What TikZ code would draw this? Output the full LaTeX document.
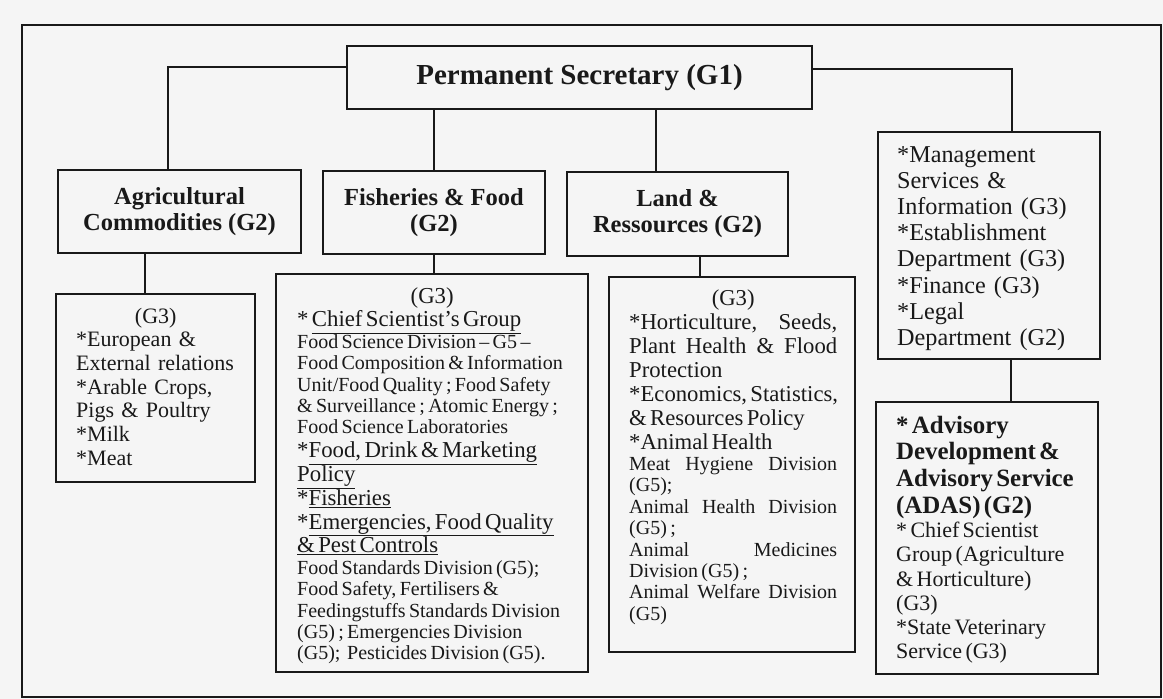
\documentclass[tikz,border=0pt]{standalone}
\usepackage{fontspec}
\setmainfont{Liberation Serif}
\definecolor{paper}{RGB}{245,245,245}
\definecolor{ink}{RGB}{25,25,25}
\newcommand{\ulin}[1]{\underline{#1}}
\newcommand{\jline}[1]{\makebox[208pt][l]{#1}}
\newcommand{\fsPS}{\fontsize{29}{30}\selectfont\bfseries}
\newcommand{\fsHead}{\fontsize{24.5}{26}\selectfont\bfseries}
\newcommand{\fsReg}{\normalfont\fontsize{22}{23.7}\selectfont}
\newcommand{\fsFishReg}{\normalfont\fontsize{22.8}{23.8}\selectfont}
\newcommand{\fsSmall}{\normalfont\fontsize{20}{21.4}\selectfont}
\newcommand{\fsLandReg}{\normalfont\fontsize{22.7}{24}\selectfont}
\newcommand{\fsRight}{\normalfont\fontsize{24.2}{26.2}\selectfont}
\newcommand{\fsAdasB}{\normalfont\fontsize{24.9}{26.8}\selectfont\bfseries}
\newcommand{\fsAdas}{\normalfont\fontsize{22}{24.2}\selectfont}
\tikzset{
  box/.style={draw=ink, line width=1.7pt, inner sep=0pt},
  conn/.style={draw=ink, line width=1.6pt},
  txt/.style={anchor=base west, inner sep=0pt, align=left, text=ink},
}
\begin{document}
\begin{tikzpicture}[x=1pt,y=-1pt]
\fill[paper] (0,0) rectangle (1163,699);
\useasboundingbox (0,0) rectangle (1163,699);
% outer frame
\draw[ink, line width=1.5pt] (22,25) rectangle (1161,697);

% boxes
\node[box, minimum width=465pt, minimum height=63pt, font=\fsPS, text=ink] (ps) at (579.5,77.5) {Permanent Secretary (G1)};
\node[box, minimum width=243pt, minimum height=83pt, font=\fsHead, align=center, text=ink] (agri) at (179.5,211.5) {Agricultural\\Commodities (G2)};
\node[box, minimum width=222pt, minimum height=83pt, font=\fsHead, align=center, text=ink] (fish) at (434,212.5) {Fisheries \& Food\\(G2)};
\node[box, minimum width=221pt, minimum height=84pt, font=\fsHead, align=center, text=ink] (land) at (677.5,214) {Land \&\\Ressources (G2)};
\node[box, minimum width=222pt, minimum height=227pt] (right1) at (989,245.5) {};
\node[box, minimum width=199pt, minimum height=188pt] (agrilow) at (155.5,388) {};
\node[box, minimum width=312pt, minimum height=398pt] (fishlow) at (432,473) {};
\node[box, minimum width=246pt, minimum height=375pt] (landlow) at (732,464.5) {};
\node[box, minimum width=222pt, minimum height=272pt] (adas) at (987,538) {};

% connectors
\draw[conn] ([yshift=10.5pt]ps.west) -| ([xshift=-11.5pt]agri.north);
\draw[conn] ([yshift=8.5pt]ps.east) -| ([xshift=23pt]right1.north);
\draw[conn] (fish.north |- ps.south) -- (fish.north);
\draw[conn] ([xshift=-21.5pt]land.north |- ps.south) -- ([xshift=-21.5pt]land.north);
\draw[conn] ([xshift=-10.5pt]agrilow.north |- agri.south) -- ([xshift=-10.5pt]agrilow.north);
\draw[conn] (fish.south) -- (fish.south |- fishlow.north);
\draw[conn] ([xshift=22.5pt]land.south) -- ([xshift=22.5pt]land.south |- landlow.north);
\draw[conn] ([xshift=22pt]right1.south) -- ([xshift=22pt]right1.south |- adas.north);

% texts
\node[txt, text width=200pt, font=\fsReg] (agritxt) at (76,323) {%
\makebox[159pt][c]{(G3)}\\{}%
*European \&\\
External relations\\{}%
*Arable Crops,\\
Pigs \& Poultry\\{}%
*Milk\\{}%
*Meat};

\node[txt, text width=295pt] (fishtxt) at (297,303) {%
\fsFishReg\makebox[270pt][c]{(G3)}\\{}%
* \ulin{Chief Scientist’s Group}\par
\fsSmall Food Science Division – G5 –\\
Food Composition \& Information\\
Unit/Food Quality ; Food Safety\\
\& Surveillance ; Atomic Energy ;\\
Food Science Laboratories\par
\fsFishReg *\ulin{Food, Drink \& Marketing}\\
\ulin{Policy}\\{}%
*\ulin{Fisheries}\\{}%
*\ulin{Emergencies, Food Quality}\\
\ulin{\& Pest Controls}\par
\fsSmall Food Standards Division (G5);\\
Food Safety, Fertilisers \&\\
Feedingstuffs Standards Division\\
(G5) ; Emergencies Division\\
(G5);\ \ Pesticides Division (G5).\par};

\node[txt, text width=240pt] (landtxt) at (629,305) {%
\fsLandReg\makebox[208pt][c]{(G3)}\\
\jline{*Horticulture,\hfill Seeds,}\\
\jline{Plant\hfill Health\hfill \&\hfill Flood}\\
Protection\\{}%
*Economics, Statistics,\\
\& Resources Policy\\{}%
*Animal Health\par
\fsSmall\jline{Meat\hfill Hygiene\hfill Division}\\
(G5);\\
\jline{Animal\hfill Health\hfill Division}\\
(G5) ;\\
\jline{Animal\hfill Medicines}\\
Division (G5) ;\\
\jline{Animal\hfill Welfare\hfill Division}\\
(G5)\par};

\node[txt, text width=215pt, font=\fsRight] (righttxt) at (897,162) {%
*Management\\
Services \&\\
Information (G3)\\{}%
*Establishment\\
Department (G3)\\{}%
*Finance (G3)\\{}%
*Legal\\
Department (G2)};

\node[txt, text width=215pt] (adastxt) at (896,433) {%
\fsAdasB * Advisory\\
Development \&\\
Advisory Service\\
(ADAS) (G2)\par
\fsAdas * Chief Scientist\\
Group (Agriculture\\
\& Horticulture)\\
(G3)\\{}%
*State Veterinary\\
Service (G3)\par};
\end{tikzpicture}
\end{document}
